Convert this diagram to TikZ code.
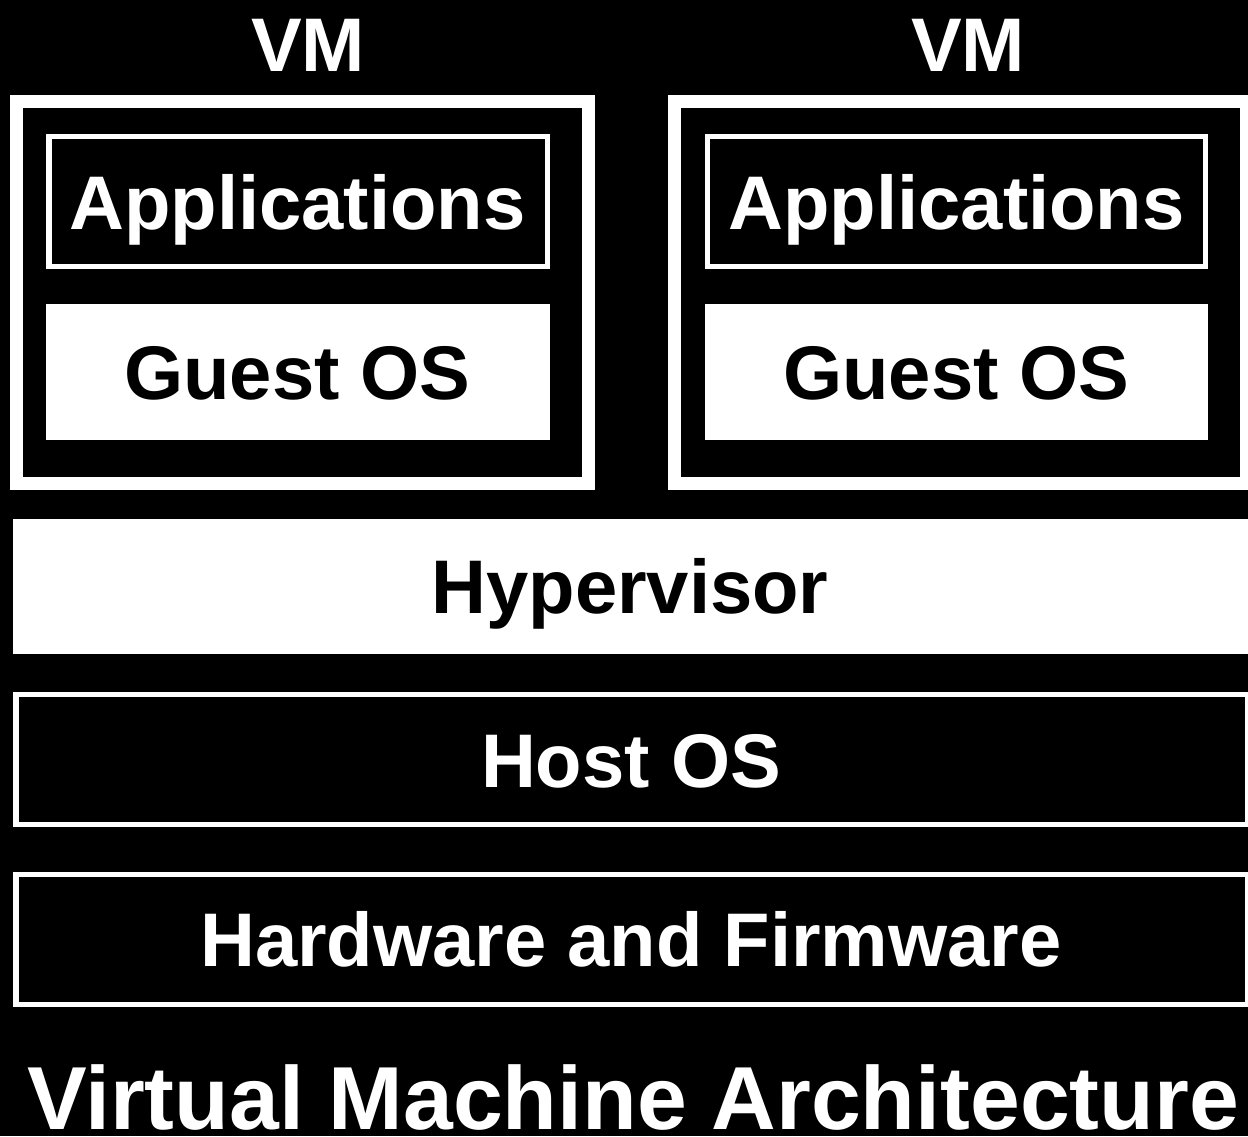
\documentclass[tikz,border=0pt]{standalone}
\usepackage{fontspec}
\setmainfont{Liberation Sans}
\begin{document}
\begin{tikzpicture}[x=1pt,y=-1pt,
  lbl/.style={text=white,font=\fontsize{76}{76}\selectfont\bfseries,anchor=base,inner sep=0pt},
  lbldark/.style={lbl,text=black},
  title/.style={text=white,font=\fontsize{89.5}{89.5}\selectfont\bfseries,anchor=base,inner sep=0pt,text depth=0pt},
  vmbox/.style={draw=white,fill=black,line width=13pt,minimum width=571.5pt,minimum height=381.5pt,inner sep=0pt},
  layerbox/.style={draw=white,fill=black,line width=5.5pt,inner sep=0pt},
  solidbox/.style={fill=white,draw=none,inner sep=0pt}]
% page and background
\useasboundingbox (0,0) rectangle (1248,1136);
\fill[black] (0,0) rectangle (1248,1136);

% virtual machines
\node[vmbox] (vm1) at (302.25,292.25) {};
\node[vmbox] (vm2) at (960.5,292.25) {};
\node[lbl] (vm1lbl) at (308,71) {VM};
\node[lbl] (vm2lbl) at (968,71) {VM};

% applications
\node[layerbox,minimum width=498.5pt,minimum height=130pt] (app1) at (298.25,201.5) {};
\node[layerbox,minimum width=498pt,minimum height=130pt] (app2) at (956.5,201.5) {};
\node[lbl] (app1lbl) at (297.5,229) {Applications};
\node[lbl] (app2lbl) at (956.5,229) {Applications};

% guest operating systems
\node[solidbox,minimum width=504pt,minimum height=136pt] (gos1) at (298,372) {};
\node[solidbox,minimum width=503pt,minimum height=136pt] (gos2) at (956.5,372) {};
\node[lbldark] (gos1lbl) at (297.5,399) {Guest OS};
\node[lbldark] (gos2lbl) at (956.5,399) {Guest OS};

% hypervisor
\node[solidbox,minimum width=1250pt,minimum height=135pt] (hyp) at (638,586.5) {};
\node[lbldark] (hyplbl) at (630,613) {Hypervisor};

% host OS
\node[layerbox,minimum width=1232pt,minimum height=130pt] (host) at (632,759.5) {};
\node[lbl] (hostlbl) at (631,787) {Host OS};

% hardware
\node[layerbox,minimum width=1232pt,minimum height=130pt] (hw) at (632,939.5) {};
\node[lbl] (hwlbl) at (631,966) {Hardware and Firmware};

% caption
\node[title] (cap) at (633,1129) {Virtual Machine Architecture};
\end{tikzpicture}
\end{document}
